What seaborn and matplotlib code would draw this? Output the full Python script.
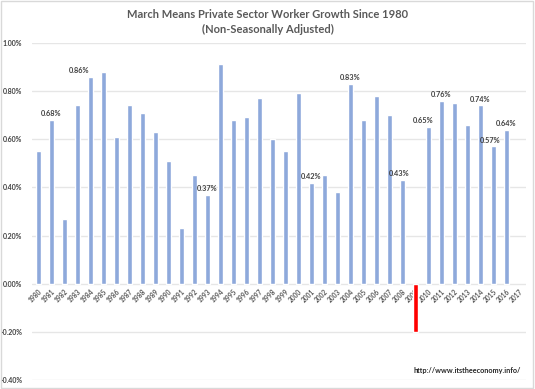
import numpy as np
import pandas as pd
import matplotlib
matplotlib.use('Agg')
import matplotlib.pyplot as plt
import seaborn as sns
from matplotlib.ticker import FuncFormatter

# --- Dados: crescimento médio de março (%) ---
years = [str(y) for y in range(1980, 2018)]
growth = [0.55, 0.68, 0.27, 0.74, 0.86, 0.88, 0.61, 0.74, 0.71, 0.63,
          0.51, 0.23, 0.45, 0.37, 0.91, 0.68, 0.69, 0.77, 0.60, 0.55,
          0.79, 0.42, 0.45, 0.38, 0.83, 0.68, 0.78, 0.70, 0.43, -0.20,
          0.65, 0.76, 0.75, 0.66, 0.74, 0.57, 0.64, np.nan]
labeled_years = ['1981', '1984', '1993', '2001', '2004', '2008',
                 '2010', '2011', '2014', '2015', '2016']
highlight_year = '2009'

df = pd.DataFrame({'year': years, 'growth': growth})

sns.set_style('white')
plt.rcParams['font.family'] = ['Lato', 'DejaVu Sans']

fig = plt.figure(figsize=(5.35, 3.89), dpi=100)
ax = fig.add_axes([0.060, 0.023, 0.923, 0.867])

palette = {y: ('#FF0000' if y == highlight_year else '#8EA9DB') for y in years}
sns.barplot(data=df, x='year', y='growth', hue='year', palette=palette,
            legend=False, width=0.4, ax=ax, zorder=3, saturation=1)

ax.set_ylim(-0.4, 1.0)
ax.set_yticks(np.arange(-0.4, 1.01, 0.2))
ax.yaxis.set_major_formatter(FuncFormatter(lambda v, p: f'{v:.2f}%'))
ax.grid(True, axis='y', color='#E6E6E6', lw=1, zorder=0)
ax.set_axisbelow(True)
for s in ax.spines.values():
    s.set_visible(False)
ax.spines['bottom'].set_position(('data', 0))
ax.tick_params(axis='both', length=0, colors='#404040', labelsize=5)
ax.tick_params(axis='y', pad=7)
for lab in ax.get_yticklabels():
    lab.set_fontweight('bold')
plt.setp(ax.get_xticklabels(), rotation=45, ha='right', rotation_mode='anchor',
         fontsize=4.8, fontweight='bold', color='#595959')
ax.tick_params(axis='x', pad=3)
ax.set_xlabel('')
ax.set_ylabel('')

# rótulos de valor em algumas barras
shift = {'1984': -8, '2010': -4, '2015': -2, '2008': -2}
for i, (y, v) in enumerate(zip(years, growth)):
    if y in labeled_years:
        ax.annotate(f'{v:.2f}%', (i, v), textcoords='offset points',
                    xytext=(shift.get(y, 0), 2), ha='center', va='bottom',
                    fontsize=5.3, fontweight='bold', color='#404040', zorder=4)

fig.text(0.5, 0.962, 'March Means Private Sector Worker Growth Since 1980',
         ha='center', va='center', fontsize=8, fontweight='bold', color='#595959')
fig.text(0.5, 0.925, '(Non-Seasonally Adjusted)',
         ha='center', va='center', fontsize=8, fontweight='bold', color='#595959')
fig.text(0.974, 0.048, 'http://www.itstheeconomy.info/', ha='right', va='center',
         fontsize=5.2, fontweight='bold', color='#262626')

fig.patches.append(plt.Rectangle((0.001, 0.002), 0.996, 0.996, transform=fig.transFigure,
                                 fill=False, edgecolor='#D9D9D9', lw=1))

plt.savefig('out.png', dpi=100)
